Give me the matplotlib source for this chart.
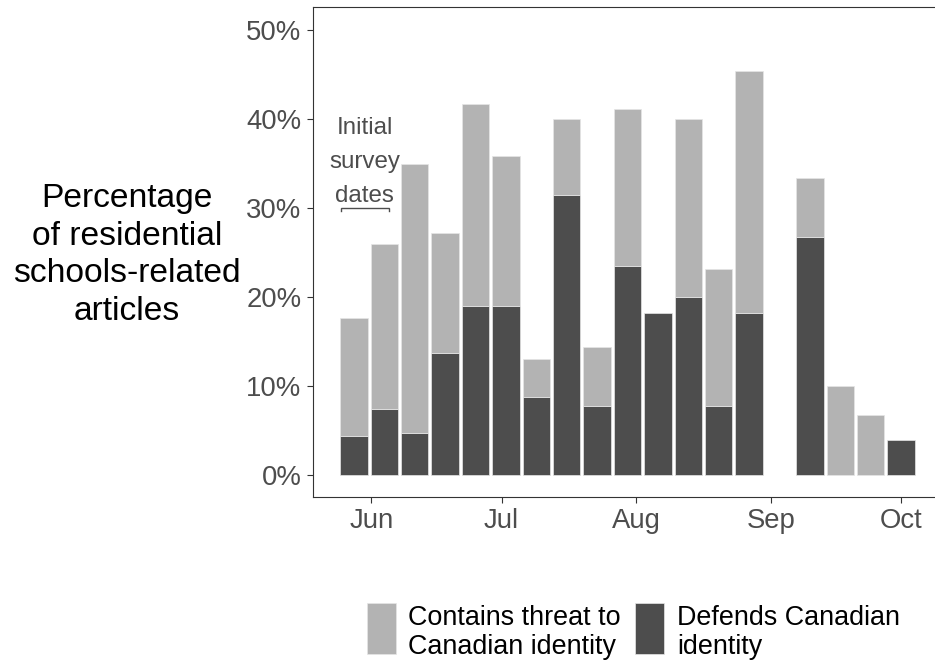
import matplotlib
matplotlib.use("Agg")
import matplotlib.pyplot as plt
import matplotlib.dates as mdates
from matplotlib.patches import Rectangle
import numpy as np
import pandas as pd

plt.rcParams['font.family'] = ['Liberation Sans', 'DejaVu Sans']

# Weekly share of residential-schools articles (percent)
week_start = ["2021-05-28", "2021-06-04", "2021-06-11", "2021-06-18", "2021-06-25",
              "2021-07-02", "2021-07-09", "2021-07-16", "2021-07-23", "2021-07-30",
              "2021-08-06", "2021-08-13", "2021-08-20", "2021-08-27", "2021-09-03",
              "2021-09-10", "2021-09-17", "2021-09-24", "2021-10-01"]
defends = [4.4, 7.4, 4.7, 13.7, 19.0, 18.9, 8.7, 31.4, 7.7, 23.5,
           18.2, 20.0, 7.7, 18.2, 0.0, 26.7, 0.0, 0.0, 3.9]
threat = [13.2, 18.5, 30.2, 13.5, 22.6, 16.9, 4.3, 8.6, 6.6, 17.6,
          0.0, 20.0, 15.4, 27.2, 0.0, 6.6, 10.0, 6.7, 0.0]

series_labels = ["Contains threat to\nCanadian identity", "Defends Canadian\nidentity"]
month_ticks = ["2021-06-01", "2021-07-01", "2021-08-01", "2021-09-01", "2021-10-01"]
month_labels = ["Jun", "Jul", "Aug", "Sep", "Oct"]
y_ticks = [0, 10, 20, 30, 40, 50]
y_tick_labels = ["0%", "10%", "20%", "30%", "40%", "50%"]
survey_window = ["2021-05-25", "2021-06-05"]

LIGHT = "#B3B3B3"
DARK = "#4D4D4D"
TICK_GRAY = "#4D4D4D"
EDGE = "#E6E6E6"
FS_TICK = 19.8
FS_TITLE = 24.2
FS_LEGEND = 19.4
FS_NOTE = 17.4

W, H = 935, 660
fig = plt.figure(figsize=(W / 100, H / 100), dpi=100)

# panel in pixel coordinates (right edge runs past the figure)
px_left, px_right, px_top, px_bottom = 312.7, 943.6, 7.3, 497.0
ax = fig.add_axes([px_left / W, 1 - px_bottom / H,
                   (px_right - px_left) / W, (px_bottom - px_top) / H])

x = mdates.date2num(pd.to_datetime(week_start))
d = np.array(defends)
t = np.array(threat)
bar_w = 6.3
# no outline on empty segments
ax.bar(x, d, width=bar_w, color=DARK, edgecolor=EDGE,
       linewidth=np.where(d > 0, 0.5, 0.0), zorder=2)
ax.bar(x, t, width=bar_w, bottom=d, color=LIGHT, edgecolor=EDGE,
       linewidth=np.where(t > 0, 0.5, 0.0), zorder=2)

jun1 = mdates.date2num(pd.Timestamp("2021-06-01"))
ax.set_xlim(jun1 - 13.5, jun1 + 131.8)
ax.set_ylim(-2.5, 52.5)

ax.set_xticks(mdates.date2num(pd.to_datetime(month_ticks)))
ax.set_xticklabels(month_labels)
ax.set_yticks(y_ticks)
ax.set_yticklabels(y_tick_labels)
ax.tick_params(axis="both", colors="#333333", labelcolor=TICK_GRAY,
               labelsize=FS_TICK, length=4.2, width=0.8)
ax.tick_params(axis="x", pad=3.5)
ax.tick_params(axis="y", pad=4.0)
for side in ["left", "bottom", "top"]:
    ax.spines[side].set_color("#333333")
    ax.spines[side].set_linewidth(0.8)
ax.spines["right"].set_visible(False)

# survey annotation with bracket
sx = mdates.date2num(pd.to_datetime(survey_window))
ax.text((sx[0] + sx[1]) / 2, 30.62, "Initial\nsurvey\ndates", ha="center",
        va="baseline", fontsize=FS_NOTE, color=TICK_GRAY, linespacing=1.72, zorder=3)
ax.plot([sx[0], sx[0], sx[1], sx[1]], [29.65, 30.0, 30.0, 29.65],
        color=TICK_GRAY, linewidth=1.0, solid_joinstyle="miter", zorder=3)

# y-axis title, horizontal at left
fig.text(126.7 / W, 1 - 320 / H,
         "Percentage\nof residential\nschools-related\narticles",
         ha="center", va="baseline", fontsize=FS_TITLE, color="black", linespacing=1.28)

# legend
key_w, key_h = 29.3, 51.6
key_top = 602.7
for kx, tx, col, lab in [(366.7, 408.3, LIGHT, series_labels[0]),
                         (634.5, 677.3, DARK, series_labels[1])]:
    fig.add_artist(Rectangle((kx / W, 1 - (key_top + key_h) / H), key_w / W, key_h / H,
                             transform=fig.transFigure, facecolor=col,
                             edgecolor=EDGE, linewidth=0.5))
    fig.text(tx / W, 1 - 654 / H, lab, ha="left", va="baseline",
             fontsize=FS_LEGEND, color="black", linespacing=1.16)

fig.savefig("out.png", dpi=100)
